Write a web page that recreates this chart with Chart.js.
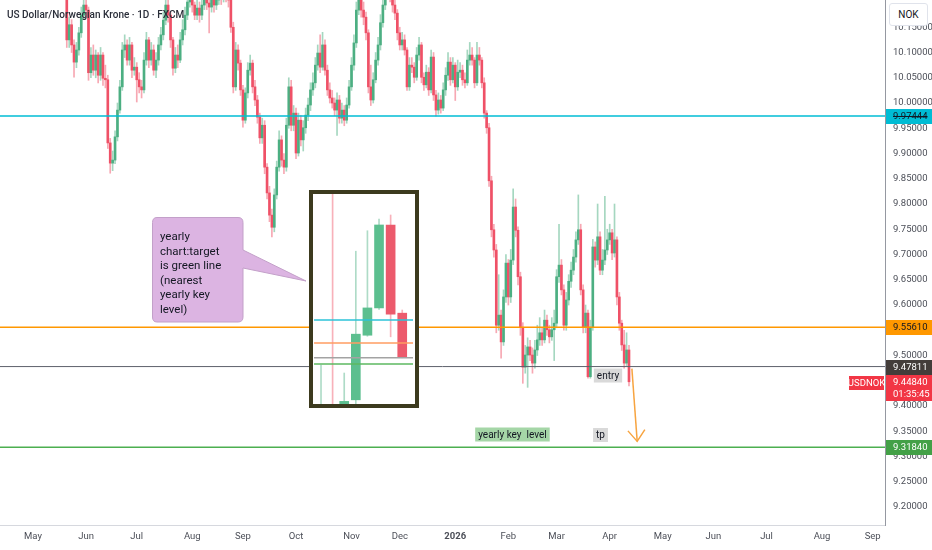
<!DOCTYPE html>
<html lang="en">
  <head>
    <meta charset="UTF-8" />
    <title>USDNOK 1D</title>
    <script src="https://cdn.jsdelivr.net/npm/chart.js"></script>
    <style>
      html,
      body {
        margin: 0;
        padding: 0;
        background: #fff;
      }
      #wrap {
        position: relative;
        width: 932px;
        height: 550px;
        overflow: hidden;
        font-family: Roboto, sans-serif;
      }
      #main {
        position: absolute;
        left: 0;
        top: 0;
      }
      .title {
        position: absolute;
        left: 7px;
        top: 9px;
        font-size: 10px;
        font-weight: 500;
        color: #2a2e39;
        white-space: nowrap;
      }
      .nok {
        position: absolute;
        left: 889px;
        top: 3px;
        width: 39px;
        height: 23px;
        box-sizing: border-box;
        border: 1px solid #e0e3eb;
        border-radius: 3px;
        background: #fff;
        font-size: 10px;
        line-height: 21px;
        text-align: center;
        color: #131722;
      }
      #inset {
        position: absolute;
        left: 309px;
        top: 190px;
        width: 102px;
        height: 210px;
        border: 4px solid #3c3a1e;
        background: #fff;
      }
      #insetCanvas {
        display: block;
      }
      svg {
        position: absolute;
        left: 0;
        top: 0;
      }
    </style>
  </head>
  <body>
    <div id="wrap">
      <canvas id="main" width="932" height="550"></canvas>
      <div class="title">US Dollar/Norwegian Krone · 1D · FXCM</div>
      <div class="nok">NOK</div>

      <svg width="932" height="550">
        <path
          d="M157,217.5 H238 Q243,217.5 243,222.5 V250 L306,281 L243,268 V317 Q243,322 238,322 H157 Q152.5,322 152.5,317 V222.5 Q152.5,217.5 157,217.5 Z"
          fill="#dcb4e2"
          stroke="#c3a0c9"
          stroke-width="1"
        />
        <g font-family="Roboto, sans-serif" font-size="11.5" fill="#131722">
          <text x="160" y="240">yearly</text>
          <text x="160" y="255">chart:target</text>
          <text x="160" y="269">is green line</text>
          <text x="160" y="284">(nearest</text>
          <text x="160" y="298">yearly key</text>
          <text x="160" y="313">level)</text>
        </g>
      </svg>

      <div id="inset"><canvas id="insetCanvas" width="102" height="210"></canvas></div>
    </div>

    <script>
      // ---- daily USDNOK candles, first bar = Mon 14 Apr 2025, one bar per weekday ----
      const startDate = "2025-04-14";
      const firstOpen = 10.5;

      const closes = [
        10.52, 10.55, 10.48, 10.5, 10.44, 10.38, 10.41, 10.36, 10.39, 10.34,
        10.37, 10.42, 10.4, 10.35, 10.38, 10.33, 10.3, 10.34, 10.31, 10.28,
        10.32, 10.29, 10.26, 10.3, 10.27, 10.25, 10.24, 10.125, 10.155, 10.115,
        10.081, 10.105, 10.139, 10.174, 10.194, 10.184, 10.06, 10.095, 10.065, 10.095,
        10.055, 10.095, 10.049, 10.046, 9.921, 9.881, 9.887, 9.933, 9.986, 10.032,
        10.105, 10.115, 10.085, 10.115, 10.065, 10.071, 10.046, 10.032, 10.026, 10.085,
        10.125, 10.085, 10.105, 10.065, 10.085, 10.115, 10.135, 10.164, 10.194, 10.174,
        10.125, 10.069, 10.095, 10.085, 10.125, 10.145, 10.174, 10.2, 10.214, 10.194,
        10.174, 10.188, 10.174, 10.194, 10.214, 10.198, 10.19, 10.21, 10.194, 10.204,
        10.214, 10.21, 10.224, 10.214, 10.204, 10.15, 10.032, 10.105, 10.079, 10.026,
        9.966, 10.02, 10.065, 10.079, 10.032, 10.006, 9.972, 9.931, 9.956, 9.873,
        9.822, 9.778, 9.754, 9.818, 9.873, 9.927, 9.887, 9.873, 9.956, 10.032,
        9.956, 9.98, 9.901, 9.966, 9.927, 9.951, 9.976, 9.996, 10.026, 10.04,
        10.075, 10.099, 10.071, 10.115, 10.065, 10.026, 10.01, 10.0, 9.986, 10.006,
        9.97, 9.986, 9.966, 9.996, 10.032, 10.075, 10.119, 10.184, 10.214, 10.184,
        10.17, 10.139, 10.032, 10.006, 10.046, 10.085, 10.115, 10.159, 10.194, 10.214,
        10.224, 10.214, 10.194, 10.178, 10.139, 10.115, 10.125, 10.105, 10.032, 10.075,
        10.071, 10.051, 10.095, 10.115, 10.051, 10.036, 10.061, 10.026, 10.091, 10.016,
        9.986, 10.006, 9.99, 10.026, 10.055, 10.081, 10.046, 10.075, 10.032, 10.061,
        10.065, 10.046, 10.04, 10.085, 10.095, 10.085, 10.04, 10.095, 10.085, 10.04,
        9.98, 9.951, 9.846, 9.749, 9.709, 9.56, 9.58, 9.527, 9.616, 9.683,
        9.616, 9.689, 9.794, 9.748, 9.656, 9.556, 9.477, 9.501, 9.517, 9.501,
        9.485, 9.511, 9.531, 9.545, 9.531, 9.57, 9.551, 9.537, 9.551, 9.564,
        9.656, 9.679, 9.63, 9.56, 9.61, 9.647, 9.669, 9.695, 9.729, 9.749,
        9.63, 9.556, 9.584, 9.458, 9.556, 9.715, 9.689, 9.735, 9.669, 9.689,
        9.709, 9.729, 9.743, 9.703, 9.729, 9.616, 9.564, 9.521, 9.485, 9.511,
        9.448,
      ];

      const highs = [
        10.56, 10.58, 10.57, 10.53, 10.52, 10.46, 10.43, 10.43, 10.41, 10.4,
        10.39, 10.44, 10.44, 10.41, 10.4, 10.39, 10.35, 10.36, 10.35, 10.32,
        10.34, 10.33, 10.3, 10.31, 10.31, 10.29, 10.27, 10.25, 10.17, 10.165,
        10.125, 10.12, 10.15, 10.19, 10.215, 10.22, 10.19, 10.11, 10.115, 10.105,
        10.1, 10.11, 10.1, 10.075, 10.055, 9.93, 9.905, 9.945, 10.0, 10.045,
        10.12, 10.135, 10.125, 10.13, 10.12, 10.09, 10.08, 10.06, 10.045, 10.1,
        10.14, 10.13, 10.12, 10.115, 10.1, 10.13, 10.15, 10.18, 10.215, 10.21,
        10.18, 10.13, 10.11, 10.115, 10.14, 10.165, 10.19, 10.215, 10.235, 10.225,
        10.2, 10.21, 10.2, 10.215, 10.235, 10.225, 10.21, 10.23, 10.225, 10.225,
        10.24, 10.235, 10.245, 10.24, 10.23, 10.215, 10.16, 10.12, 10.115, 10.085,
        10.035, 10.03, 10.08, 10.095, 10.085, 10.045, 10.015, 9.98, 9.97, 9.965,
        9.88, 9.835, 9.79, 9.83, 9.885, 9.945, 9.935, 9.9, 9.97, 10.05,
        10.045, 9.995, 9.99, 9.98, 9.975, 9.965, 9.99, 10.01, 10.04, 10.06,
        10.09, 10.115, 10.135, 10.14, 10.125, 10.075, 10.04, 10.025, 10.01, 10.02,
        10.015, 10.0, 9.995, 10.01, 10.045, 10.09, 10.135, 10.2, 10.235, 10.225,
        10.2, 10.18, 10.145, 10.075, 10.06, 10.1, 10.13, 10.175, 10.21, 10.235,
        10.245, 10.24, 10.225, 10.205, 10.185, 10.15, 10.14, 10.135, 10.11, 10.09,
        10.09, 10.08, 10.11, 10.13, 10.12, 10.06, 10.075, 10.07, 10.105, 10.1,
        10.025, 10.02, 10.015, 10.04, 10.07, 10.1, 10.09, 10.09, 10.08, 10.085,
        10.08, 10.075, 10.06, 10.105, 10.12, 10.11, 10.09, 10.12, 10.11, 10.09,
        10.05, 9.985, 9.96, 9.855, 9.76, 9.72, 9.66, 9.59, 9.63, 9.7,
        9.69, 9.71, 9.83, 9.81, 9.755, 9.665, 9.565, 9.52, 9.535, 9.53,
        9.515, 9.53, 9.56, 9.575, 9.555, 9.59, 9.58, 9.56, 9.575, 9.59,
        9.67, 9.76, 9.69, 9.64, 9.625, 9.66, 9.685, 9.71, 9.745, 9.818,
        9.76, 9.64, 9.6, 9.59, 9.57, 9.73, 9.725, 9.8, 9.745, 9.71,
        9.815, 9.75, 9.76, 9.75, 9.8, 9.735, 9.625, 9.57, 9.55, 9.545,
        9.52,
      ];

      const lows = [
        10.47, 10.5, 10.46, 10.45, 10.42, 10.36, 10.36, 10.34, 10.34, 10.32,
        10.32, 10.35, 10.38, 10.33, 10.33, 10.31, 10.28, 10.29, 10.29, 10.26,
        10.27, 10.27, 10.24, 10.25, 10.25, 10.23, 10.22, 10.11, 10.11, 10.1,
        10.051, 10.07, 10.095, 10.13, 10.165, 10.17, 10.045, 10.05, 10.055, 10.05,
        10.04, 10.045, 10.035, 10.03, 9.91, 9.861, 9.866, 9.88, 9.925, 9.98,
        10.025, 10.09, 10.075, 10.075, 10.05, 10.055, 10.002, 10.02, 10.01, 10.02,
        10.075, 10.07, 10.075, 10.055, 10.05, 10.075, 10.105, 10.125, 10.155, 10.16,
        10.11, 10.055, 10.06, 10.07, 10.08, 10.115, 10.135, 10.165, 10.19, 10.18,
        10.165, 10.165, 10.16, 10.165, 10.185, 10.185, 10.139, 10.18, 10.18, 10.185,
        10.195, 10.195, 10.2, 10.2, 10.19, 10.14, 10.02, 10.025, 10.065, 10.015,
        9.952, 9.96, 10.01, 10.055, 10.02, 9.995, 9.96, 9.92, 9.92, 9.86,
        9.81, 9.765, 9.735, 9.745, 9.81, 9.865, 9.875, 9.86, 9.865, 9.95,
        9.945, 9.945, 9.89, 9.895, 9.915, 9.905, 9.94, 9.965, 9.985, 10.015,
        10.03, 10.065, 10.06, 10.065, 10.055, 10.015, 10.0, 9.99, 9.975, 9.936,
        9.96, 9.96, 9.955, 9.96, 9.99, 10.025, 10.065, 10.11, 10.175, 10.17,
        10.155, 10.125, 10.02, 9.995, 10.0, 10.04, 10.075, 10.105, 10.15, 10.185,
        10.205, 10.2, 10.18, 10.165, 10.125, 10.105, 10.105, 10.095, 10.025, 10.025,
        10.06, 10.04, 10.045, 10.085, 10.04, 10.025, 10.03, 10.015, 10.02, 10.005,
        9.974, 9.978, 9.98, 9.985, 10.015, 10.045, 10.035, 10.04, 10.005, 10.025,
        10.05, 10.035, 10.03, 10.035, 10.075, 10.075, 10.03, 10.035, 10.075, 10.03,
        9.97, 9.94, 9.835, 9.735, 9.695, 9.545, 9.55, 9.495, 9.52, 9.605,
        9.6, 9.605, 9.68, 9.735, 9.64, 9.54, 9.445, 9.465, 9.437, 9.49,
        9.465, 9.475, 9.5, 9.52, 9.52, 9.525, 9.54, 9.525, 9.53, 9.49,
        9.555, 9.645, 9.62, 9.55, 9.55, 9.6, 9.635, 9.66, 9.685, 9.72,
        9.62, 9.545, 9.545, 9.455, 9.455, 9.55, 9.675, 9.68, 9.66, 9.66,
        9.68, 9.7, 9.72, 9.69, 9.695, 9.6, 9.55, 9.51, 9.475, 9.48,
        9.44,
      ];

      // axis ticks
      const monthLabels = ["May", "Jun", "Jul", "Aug", "Sep", "Oct", "Nov", "Dec", "2026",
        "Feb", "Mar", "Apr", "May", "Jun", "Jul", "Aug", "Sep"];
      const priceTicks = [10.15, 10.1, 10.05, 10.0, 9.95, 9.9, 9.85, 9.8, 9.75, 9.7,
        9.65, 9.6, 9.55, 9.5, 9.45, 9.4, 9.35, 9.3, 9.25, 9.2];

      // horizontal levels drawn on the chart, with their axis tags
      const levelPrices = [9.97444, 9.5561, 9.47811, 9.3184];
      const levelColors = ["#00bcd4", "#ff9800", "#5d606b", "#4caf50"];
      const levelWidths = [1.5, 1.5, 1, 1.5];
      const tagBg = ["#00bcd4", "#ff9800", "#433d3a", "#43a047"];
      const tagFg = ["#131722", "#131722", "#ffffff", "#ffffff"];

      const lastPrice = 9.4484;
      const countdown = "01:35:45";

      // text notes: [bar index, price]
      const noteTexts = ["entry", "tp", "yearly key  level"];
      const noteIdx = [251.3, 248.2, 211.7];
      const notePrice = [9.4604, 9.3426, 9.3436];
      const noteBg = ["#d9d9d9", "#d9d9d9", "#a5d6a7"];

      // orange arrow from entry to target
      const arrowIdx = [261.2, 263.4];
      const arrowPrice = [9.474, 9.33];

      // inset: yearly candles
      const insetOpen = [7.6, 12.5, 7.9, 8.08, 9.31, 9.83, 11.41, 9.73];
      const insetClose = [7.7, 12.3, 8.05, 9.33, 9.83, 11.41, 9.71, 8.9];
      const insetHigh = [8.74, 12.6, 8.59, 10.91, 11.3, 11.52, 11.6, 9.79];
      const insetLow = [7.5, 7.5, 7.8, 8.0, 9.29, 9.8, 9.28, 8.88];
      const insetLevels = [9.6, 9.16, 8.88, 8.76];
      const insetLevelColors = ["#2cc3d8", "#ff9d62", "#a3a3a3", "#5cb860"];

      // ---- derived ----
      const upBody = "#4caf82";
      const downBody = "#ef5167";
      const upWick = "rgba(76,175,130,0.5)";
      const downWick = "rgba(239,81,103,0.5)";

      const xMin = -0.68;
      const xMax = 366.1;
      const yMin = 9.1644;
      const yMax = 10.204;

      const idx = closes.map((_, i) => i);
      const opens = closes.map((c, i) => (i === 0 ? firstOpen : closes[i - 1]));
      const isUp = closes.map((c, i) => c >= opens[i]);

      // first weekday of every month on the bar index axis
      const monthIdx = [];
      (function () {
        const d = new Date(startDate + "T00:00:00Z");
        let prevMonth = d.getUTCMonth();
        for (let i = 0; i <= Math.floor(xMax); i++) {
          if (d.getUTCMonth() !== prevMonth) monthIdx.push(i);
          prevMonth = d.getUTCMonth();
          d.setUTCDate(d.getUTCDate() + 1);
          while (d.getUTCDay() === 0 || d.getUTCDay() === 6) d.setUTCDate(d.getUTCDate() + 1);
        }
      })();

      const levelDatasets = levelPrices.map((p, k) => ({
        type: "line",
        data: [{ x: xMin, y: p }, { x: xMax, y: p }],
        borderColor: levelColors[k],
        borderWidth: levelWidths[k],
        pointRadius: 0,
        order: 0,
      }));

      // no extra room for the edge tick labels: plot fills the frame
      function noPadding(s) {
        s.paddingTop = 0;
        s.paddingBottom = 0;
        s.paddingLeft = 0;
        s.paddingRight = 0;
      }

      const overlay = {
        id: "overlay",
        afterDraw(chart) {
          const { ctx, chartArea } = chart;
          const x = chart.scales.x;
          const y = chart.scales.y;
          ctx.save();
          ctx.textBaseline = "middle";

          // notes
          ctx.font = "10px Roboto, sans-serif";
          noteTexts.forEach((t, k) => {
            const cx = x.getPixelForValue(noteIdx[k]);
            const cy = y.getPixelForValue(notePrice[k]);
            const w = ctx.measureText(t).width + 6;
            ctx.fillStyle = noteBg[k];
            ctx.fillRect(cx - w / 2, cy - 7, w, 14);
            ctx.fillStyle = "#131722";
            ctx.textAlign = "center";
            ctx.fillText(t, cx, cy + 0.5);
          });

          // arrow head
          const tx = x.getPixelForValue(arrowIdx[1]);
          const ty = y.getPixelForValue(arrowPrice[1]);
          const ang = Math.atan2(ty - y.getPixelForValue(arrowPrice[0]), tx - x.getPixelForValue(arrowIdx[0]));
          ctx.strokeStyle = "#f7a440";
          ctx.lineWidth = 1.5;
          ctx.beginPath();
          ctx.moveTo(tx - 14 * Math.cos(ang - 0.65), ty - 14 * Math.sin(ang - 0.65));
          ctx.lineTo(tx, ty);
          ctx.lineTo(tx - 14 * Math.cos(ang + 0.65), ty - 14 * Math.sin(ang + 0.65));
          ctx.stroke();

          // level tags on the price axis
          const left = chartArea.right + 1;
          ctx.font = "9.5px Roboto, sans-serif";
          ctx.textAlign = "left";
          levelPrices.forEach((p, k) => {
            const py = Math.round(y.getPixelForValue(p));
            ctx.fillStyle = tagBg[k];
            ctx.fillRect(left, py - 7, 46, 15);
            ctx.fillStyle = tagFg[k];
            ctx.fillText(p.toFixed(5), chartArea.right + 8, py + 0.5);
            if (k === 0) {
              const w = ctx.measureText(p.toFixed(5)).width;
              ctx.fillRect(chartArea.right + 8, py, w, 1);
            }
          });

          // last price tag + symbol tag
          const lp = Math.round(y.getPixelForValue(lastPrice));
          ctx.fillStyle = "#f23645";
          ctx.fillRect(left, lp - 7, 46, 26);
          ctx.fillRect(chartArea.right - 36, lp - 6, 35, 14);
          ctx.fillStyle = "#ffffff";
          ctx.fillText(lastPrice.toFixed(5), chartArea.right + 8, lp + 0.5);
          ctx.fillText(countdown, chartArea.right + 8, lp + 12.5);
          ctx.textAlign = "center";
          ctx.fillText("USDNOK", chartArea.right - 18.5, lp + 1.5);
          ctx.restore();
        },
      };

      new Chart(document.getElementById("main"), {
        type: "bar",
        data: {
          datasets: [
            ...levelDatasets,
            {
              type: "line",
              data: arrowIdx.map((v, k) => ({ x: v, y: arrowPrice[k] })),
              borderColor: "#f7a440",
              borderWidth: 1.5,
              pointRadius: 0,
              order: 0,
            },
            {
              data: idx.map((i) => ({ x: i, y: [lows[i], highs[i]] })),
              backgroundColor: idx.map((i) => (isUp[i] ? upWick : downWick)),
              barThickness: 1,
              grouped: false,
              order: 2,
            },
            {
              data: idx.map((i) => ({ x: i, y: [opens[i], closes[i]] })),
              backgroundColor: idx.map((i) => (isUp[i] ? upBody : downBody)),
              barThickness: 2,
              minBarLength: 1,
              grouped: false,
              order: 1,
            },
          ],
        },
        options: {
          responsive: false,
          animation: false,
          events: [],
          layout: { padding: 0 },
          plugins: { legend: { display: false }, tooltip: { enabled: false } },
          scales: {
            x: {
              type: "linear",
              min: xMin,
              max: xMax,
              offset: false,
              grid: { display: false, drawTicks: false },
              border: { color: "#d6d8de" },
              afterBuildTicks: (s) => {
                s.ticks = monthIdx.map((v) => ({ value: v }));
              },
              afterFit: (s) => {
                s.height = 25;
                noPadding(s);
              },
              ticks: {
                autoSkip: false,
                maxRotation: 0,
                padding: 6,
                color: "#4c4f58",
                font: (c) => ({
                  family: "Roboto, sans-serif",
                  size: 9.5,
                  weight: c.tick && c.tick.label === "2026" ? "bold" : "normal",
                }),
                callback: (v, k) => monthLabels[k],
              },
            },
            y: {
              position: "right",
              min: yMin,
              max: yMax,
              grid: { display: false, drawTicks: false },
              border: { color: "#9598a1" },
              afterBuildTicks: (s) => {
                s.ticks = priceTicks.map((v) => ({ value: v }));
              },
              afterFit: (s) => {
                s.width = 47;
                noPadding(s);
              },
              ticks: {
                padding: 8,
                color: "#4c4f58",
                font: { family: "Roboto, sans-serif", size: 9.5 },
                callback: (v) => v.toFixed(5),
              },
            },
          },
        },
        plugins: [overlay],
      });

      // ---- inset (yearly chart picture) ----
      const insetIdx = insetOpen.map((_, i) => i);
      new Chart(document.getElementById("insetCanvas"), {
        type: "bar",
        data: {
          datasets: [
            ...insetLevels.map((p, k) => ({
              type: "line",
              data: [{ x: -0.6, y: p }, { x: 7.93, y: p }],
              borderColor: insetLevelColors[k],
              borderWidth: 1.5,
              pointRadius: 0,
              order: 0,
            })),
            {
              data: insetIdx.map((i) => ({ x: i, y: [insetLow[i], insetHigh[i]] })),
              backgroundColor: insetIdx.map((i) =>
                insetClose[i] >= insetOpen[i] ? "rgba(76,175,130,0.45)" : "rgba(239,81,103,0.45)"
              ),
              barThickness: 1,
              grouped: false,
              order: 2,
            },
            {
              data: insetIdx.map((i) => ({ x: i, y: [insetOpen[i], insetClose[i]] })),
              backgroundColor: insetIdx.map((i) =>
                insetClose[i] >= insetOpen[i] ? "#5cbf8f" : "#ec5a6c"
              ),
              barThickness: 9,
              grouped: false,
              order: 1,
            },
          ],
        },
        options: {
          responsive: false,
          animation: false,
          events: [],
          layout: { padding: 0 },
          plugins: { legend: { display: false }, tooltip: { enabled: false } },
          scales: {
            x: { type: "linear", display: false, min: -0.69, max: 8.1, offset: false },
            y: { display: false, min: 8, max: 12 },
          },
        },
      });
    </script>
  </body>
</html>
